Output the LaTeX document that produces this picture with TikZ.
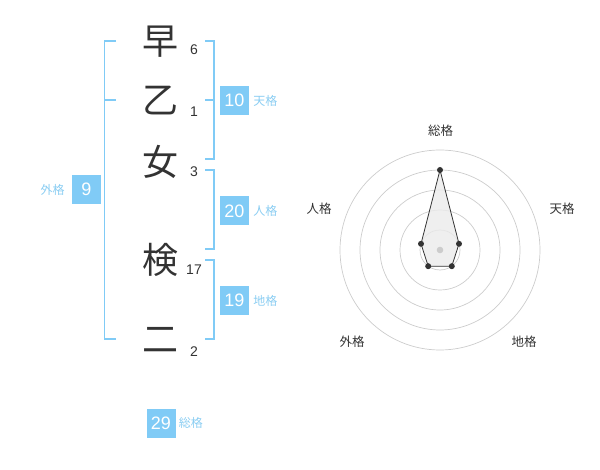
\documentclass[tikz,border=0pt]{standalone}
\usepackage{fontspec}
\usetikzlibrary{positioning,calc}
\setmainfont{Liberation Sans}
\newfontfamily\jpfont{Noto Sans CJK JP}
\definecolor{kakuBlue}{HTML}{80CBF6}
\definecolor{kakuText}{HTML}{8ACDF2}
\definecolor{inkGray}{HTML}{333333}
\definecolor{ringGray}{HTML}{CCCCCC}
\tikzset{
  kanji/.style={inner sep=0pt,text=inkGray,font=\jpfont\fontsize{36}{36}\selectfont},
  kakusu/.style={inner sep=0pt,anchor=center,text=inkGray,font=\fontsize{14}{14}\selectfont},
  kakubox/.style={fill=kakuBlue,minimum size=29pt,inner sep=0pt,text=white,font=\fontsize{18}{18}\selectfont},
  kakuname/.style={inner sep=0pt,text=kakuText,font=\jpfont\fontsize{12}{12}\selectfont},
  bracket/.style={draw=kakuBlue,line width=1.6pt},
  axisname/.style={inner sep=0pt,text=inkGray,font=\jpfont\fontsize{12.5}{12.5}\selectfont},
  dot/.style={circle,fill=inkGray,inner sep=0pt,minimum size=6pt}
}
\begin{document}
\begin{tikzpicture}[x=1pt,y=-1pt]
\useasboundingbox (0,0) rectangle (600,470);
% name characters and stroke counts
\node[kanji] (c1) at (160,42) {早};
\node[kanji] (c2) at (160,101) {乙};
\node[kanji] (c3) at (160,162) {女};
\node[kanji] (c4) at (160,260) {検};
\node[kanji] (c5) at (160,340) {二};
\node[kakusu] (n1) at (194,50) {6};
\node[kakusu] (n2) at (194,112) {1};
\node[kakusu] (n3) at (194,172) {3};
\node[kakusu] (n4) at (194,270) {17};
\node[kakusu] (n5) at (194,352) {2};
% brackets
\draw[bracket] (116,41) -- (104.5,41) -- (104.5,339) -- (116,339);
\draw[bracket] (104.5,100) -- (116,100);
\draw[bracket] (205,41) -- (214,41) -- (214,159) -- (205,159);
\draw[bracket] (205,100) -- (214,100);
\draw[bracket] (205,170) -- (214,170) -- (214,249) -- (205,249);
\draw[bracket] (205,260) -- (214,260) -- (214,339) -- (205,339);
% totals
\node[kakubox] (ten) at (234.5,100.5) {10};
\node[kakuname,right=4pt of ten] (tenL) {天格};
\node[kakubox] (jin) at (234.5,211) {20};
\node[kakuname,right=4pt of jin] (jinL) {人格};
\node[kakubox] (chi) at (234.5,300.5) {19};
\node[kakuname,right=4pt of chi] (chiL) {地格};
\node[kakubox] (gai) at (86.5,189.5) {9};
\node[kakuname,left=7pt of gai] (gaiL) {外格};
\node[kakubox] (sou) at (161,423) {29};
\node[kakuname,right=3pt of sou] (souL) {総格};
% radar chart
\coordinate (o) at (440,250);
\foreach \r in {20,40,60,80,100}
  \draw[ringGray,line width=0.7pt] (o) circle[radius=\r];
\coordinate (pSou) at ($(o)+(0,-80)$);
\coordinate (pTen) at ($(o)+(19,-6.2)$);
\coordinate (pChi) at ($(o)+(11.8,16.2)$);
\coordinate (pGai) at ($(o)+(-11.8,16.2)$);
\coordinate (pJin) at ($(o)+(-19,-6.2)$);
\draw[inkGray,fill=black!8,fill opacity=0.8,line width=0.8pt]
  (pSou) -- (pTen) -- (pChi) -- (pGai) -- (pJin) -- cycle;
\fill[ringGray] (o) circle[radius=3.3];
\foreach \p in {pSou,pTen,pChi,pGai,pJin}
  \node[dot] at (\p) {};
\node[axisname] (aSou) at (440.5,131) {総格};
\node[axisname] (aTen) at (562,208.5) {天格};
\node[axisname] (aJin) at (319,208.5) {人格};
\node[axisname] (aGai) at (352,342) {外格};
\node[axisname] (aChi) at (524,342) {地格};
\end{tikzpicture}
\end{document}
